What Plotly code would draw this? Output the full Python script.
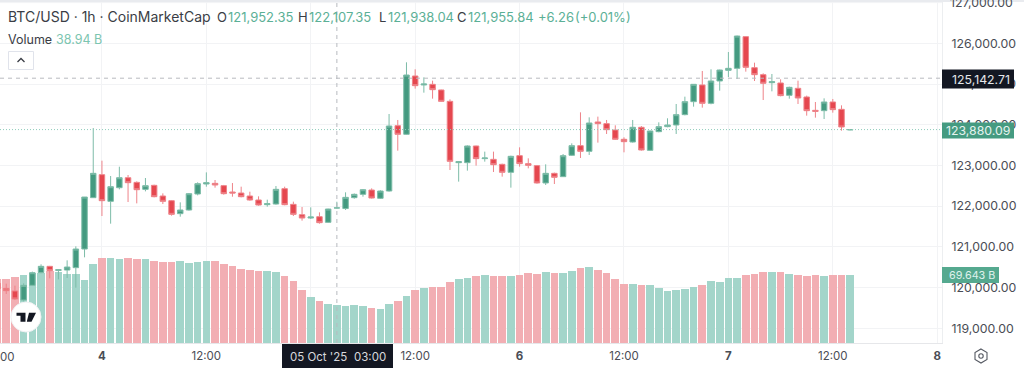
import pandas as pd
import plotly.graph_objects as go

times = pd.date_range("2025-10-03 12:00", periods=99, freq="h")

opens = [120102,119979,119914,119692,120053,120364,120520,120420,120429,120487,120945,122207,
122772,122117,122452,122698,122583,122411,122510,122248,122133,121814,121904,122297,
122543,122559,122502,122346,122321,122248,122150,122035,122051,122428,122043,121789,121707,121740,121601,121952.35,
121940,122207,122289,122395,122191,122371,123976,123764,125197,124976,124992,124853,
124574,123067,123067,123477,123166,123149,123026,122830,123239,123043,122994,122568,122805,122723,123248,123485,123346,124067,124026,123870,
123641,123575,123936,123370,123829,123952,123993,124247,124566,124976,124525,125074,125336,125385,126163,125401,125229,125033,125025,124722,
124894,124681,124353,124345,124558,124378,123872]
highs = [120150,120094,120045,120102,120390,120569,120530,120454,120667,121011,122223,123918,
123116,122739,122968,122764,122608,122690,122526,122313,122150,122092,122320,122584,
122829,122641,122520,122567,122477,122354,122240,122158,122493,122477,122109,121978,121969,121846,121935,122107.35,
122338,122310,122420,122436,122390,124263,124116,125533,125361,125164,125082,124861,
124623,123100,123493,123485,123338,123338,123043,123239,123444,123174,123010,123026,122822,123280,123542,124304,124181,124198,124116,123985,
123690,124116,123968,123854,124058,124157,124509,124689,125000,125320,125361,125352,125786,126190,126170,125524,125262,125246,125115,124935,
125082,124714,124558,124648,124632,124476,123885]
lows = [119940,119840,119692,119660,120040,120350,120225,120200,120233,119995,120741,122207,
121756,121568,122411,122100,122067,122362,122215,122051,121765,121740,121890,122264,
122477,122453,122281,122231,122215,122133,122010,121986,122035,122020,121756,121642,121683,121568,121590,121938.04,
121905,122182,122231,122185,122175,122355,123362,123755,124886,124787,124640,124566,
122887,122601,122871,122994,123092,122838,122723,122453,122969,122928,122551,122519,122543,122715,123231,123182,123256,123559,123772,123632,
123321,123559,123362,123362,123813,123936,123772,124230,124443,124419,124501,124836,125172,125123,125303,125074,124607,124820,124697,124640,
124509,124222,124173,124140,124296,123854,123865]
closes = [119971,119922,119717,120053,120364,120520,120413,120437,120503,120945,122223,122805,
122133,122477,122698,122575,122403,122502,122231,122117,121797,121904,122305,122551,
122575,122518,122305,122321,122231,122150,122027,122060,122412,122035,121797,121707,121732,121593,121928,121955.84,
122215,122289,122403,122199,122370,123968,123764,125221,124959,125000,124861,124574,
123100,123092,123477,123166,123182,123018,122830,123223,123043,123002,122568,122805,122707,123239,123485,123346,124042,124026,123878,123641,
123583,123936,123379,123845,123952,123993,124247,124566,124992,124525,125074,125344,125385,126179,125410,125229,125017,125057,124714,124918,
124656,124345,124329,124558,124370,123944,123880.09]
volumes = [65.2,65.2,67.3,69.6,71.3,71.7,73.4,72.0,70.3,70.3,64.5,80.8,
86.6,86.3,85.6,86.3,85.6,85.3,83.6,82.9,82.5,83.2,81.5,82.2,
83.2,83.2,80.2,78.1,75.4,74.1,73.7,73.4,72.0,68.3,63.5,53.7,46.5,42.5,40.1,38.94,
38.0,38.7,37.4,36.0,35.0,39.7,42.5,48.2,54.4,55.7,57.4,57.1,
62.5,64.9,65.9,68.3,69.3,68.6,68.6,68.6,69.3,71.3,70.3,72.0,71.7,71.7,73.7,76.4,77.5,74.4,71.7,64.9,
60.5,60.1,58.8,58.8,56.1,53.3,54.4,55.4,56.7,58.8,62.8,62.2,65.9,66.2,69.3,70.3,72.4,72.7,72.7,70.3,
69.3,67.9,69.3,68.6,69.3,69.0,69.643]

price_ticks = [119000,120000,121000,122000,123000,124000,125000,126000]
time_ticks = ["2025-10-04 00:00","2025-10-04 12:00","2025-10-05 00:00","2025-10-05 12:00",
              "2025-10-06 00:00","2025-10-06 12:00","2025-10-07 00:00","2025-10-07 12:00","2025-10-08 00:00"]
time_labels = ["<b>4</b>","12:00","<b>5</b>","12:00","<b>6</b>","12:00","<b>7</b>","12:00","<b>8</b>"]
crosshair_time = "2025-10-05 03:00"
crosshair_price = 125142.71
last_price = 123880.09

GREEN, RED = "#449a80", "#e5474f"
GREEN_WICK, RED_WICK = "#7dbca8", "#ee8389"
V_GREEN, V_RED = "#a3d5ca", "#f2aeb3"
TXT = "#3a3d45"
W, H, R, B, T = 1024, 370, 942, 343, 2

def px(x): return x / R
def py(y): return (B - y) / (B - T)

fig = go.Figure()
fig.add_bar(x=times, y=volumes, yaxis="y", width=3600000 * 0.88,
            marker=dict(color=[V_GREEN if c >= o else V_RED for o, c in zip(opens, closes)], line_width=0),
            showlegend=False, hoverinfo="skip")
fig.add_candlestick(x=times, open=opens, high=highs, low=lows, close=closes, yaxis="y2",
                    increasing=dict(fillcolor=GREEN, line=dict(color=GREEN_WICK, width=1)),
                    decreasing=dict(fillcolor=RED, line=dict(color=RED_WICK, width=1)),
                    whiskerwidth=0, showlegend=False)

shapes = [
    dict(type="line", xref="paper", x0=0, x1=1, yref="y2", y0=last_price, y1=last_price,
         line=dict(color="#8fcdbb", width=1, dash="1px,2px")),
    dict(type="line", xref="paper", x0=0, x1=1, yref="y2", y0=crosshair_price, y1=crosshair_price,
         line=dict(color="#b8babf", width=1, dash="4px,4px")),
    dict(type="line", yref="paper", y0=0, y1=1, xref="x", x0=crosshair_time, x1=crosshair_time,
         line=dict(color="#b8babf", width=1, dash="4px,4px")),
    dict(type="line", xref="paper", x0=0, x1=1, yref="y2", y0=127000, y1=127000,
         line=dict(color="#f2f3f5", width=1), layer="below"),
]

def rect(x0, y0, x1, y1, fill, line=None, path=None):
    return dict(type="rect", xref="paper", yref="paper", x0=px(x0), x1=px(x1), y0=py(y0), y1=py(y1),
                fillcolor=fill, line=dict(color=line or fill, width=1 if line else 0), layer="above")

def poly(points, fill="rgba(0,0,0,0)", line=None, width=0, close=True):
    d = "M" + " L".join(f"{px(a):.5f},{py(b):.5f}" for a, b in points) + (" Z" if close else "")
    return dict(type="path", xref="paper", yref="paper", path=d, fillcolor=fill,
                line=dict(color=line or fill, width=width), layer="above")

shapes += [
    rect(0, -1, W, 2, "#e9ebef"),
    rect(942, 69.5, 1014, 88.5, "#131722"),
    rect(942, 122.5, 1014, 138.5, "#459b81"),
    rect(942, 267, 999, 283, "#55a98f"),
    rect(282, 344, 393, 368, "#131722"),
    dict(type="circle", xref="paper", yref="paper", x0=px(11), x1=px(41), y0=py(302), y1=py(332),
         fillcolor="white", line=dict(color="#f0f1f3", width=1), layer="above"),
    poly([(16.5, 312.7), (25.5, 312.7), (25.5, 321.7), (20.5, 321.7), (20.5, 315.7), (16.5, 315.7)], "#131722"),
    poly([(29, 312.7), (36, 312.7), (31.5, 321.7), (26.8, 321.7)], "#131722"),
    dict(type="rect", xref="paper", yref="paper", x0=px(8.5), x1=px(33.5), y0=py(51.5), y1=py(69.5),
         fillcolor="white", line=dict(color="#e0e3eb", width=1), layer="above"),
    poly([(17.5, 62), (21, 58.5), (24.5, 62)], line="#3a3d45", width=1.3, close=False),
    poly([(981, 349), (987, 352.5), (987, 359.5), (981, 363), (975, 359.5), (975, 352.5)], line="#555962", width=1.1),
    dict(type="circle", xref="paper", yref="paper", x0=px(978.8), x1=px(983.2), y0=py(353.8), y1=py(358.2),
         line=dict(color="#555962", width=1.1), layer="above"),
]

def label(x, y, text, color=TXT, size=13, anchor="left"):
    return dict(xref="paper", yref="paper", x=px(x), y=py(y), text=text, showarrow=False,
                xanchor=anchor, yanchor="middle", font=dict(color=color, size=size), borderpad=0, borderwidth=0)

VAL = "#5bb096"
annotations = [
    label(8, 17, "BTC/USD · 1h · CoinMarketCap", TXT, 14),
    label(217, 17, "O"), label(228, 17, "121,952.35", VAL),
    label(298, 17, "H"), label(309, 17, "122,107.35", VAL),
    label(379, 17, "L"), label(388, 17, "121,938.04", VAL),
    label(457, 17, "C"), label(468, 17, "121,955.84", VAL),
    label(538, 17, "+6.26", VAL), label(575, 17, "(+0.01%)", VAL),
    label(8, 39, "Volume", TXT, 12.5), label(56, 39, "38.94 B", "#7cc5b0", 12.5),
    label(1010, 79, "125,142.71", "#e6e7ea", 12.3, "right"),
    label(1010, 130.5, "123,880.09", "#e6f3ef", 12.3, "right"),
    label(995, 275, "69.643 B", "#dff1ec", 10.8, "right"),
    label(290, 356.5, "05 Oct '25", "#d8d9dd", 11.5),
    label(354, 356.5, "03:00", "#d8d9dd", 11.5),
    label(0, 356.5, "00", "#4a4d55", 11.5),
    label(950, 3, "127,000.00", "#4a4d55", 12.3),
]

fig.update_layout(
    width=W, height=H, autosize=False,
    margin=dict(l=0, r=W - R, t=T, b=H - B),
    paper_bgcolor="white", plot_bgcolor="white",
    font=dict(family="Inter, Liberation Sans, sans-serif", color="#4a4d55", size=12),
    bargap=0, boxgap=0.1, showlegend=False, shapes=shapes, annotations=annotations,
    xaxis=dict(type="date", range=["2025-10-03 12:17", "2025-10-08 00:33"],
               rangeslider=dict(visible=False), tickmode="array", tickvals=time_ticks, ticktext=time_labels,
               showgrid=True, gridcolor="#f2f3f5", gridwidth=1, ticks="", showline=True, linecolor="#e6e7ea",
               zeroline=False, tickangle=0, ticklabelstandoff=2, tickfont=dict(size=11.5, color="#4a4d55")),
    yaxis=dict(range=[0, 347.5], visible=False, fixedrange=True, showgrid=False),
    yaxis2=dict(overlaying="y", side="right", range=[118636, 127015], tickmode="array", tickvals=price_ticks,
                tickformat=",.2f", showgrid=True, gridcolor="#f2f3f5", gridwidth=1, ticks="", showline=True,
                linecolor="#eceef0", zeroline=False, ticklabelstandoff=6,
                tickfont=dict(size=12.3, color="#4a4d55")),
)
fig.write_html("out.html", config=dict(displayModeBar=False),
               post_script="document.body.style.margin='0';document.body.style.overflow='hidden';")
